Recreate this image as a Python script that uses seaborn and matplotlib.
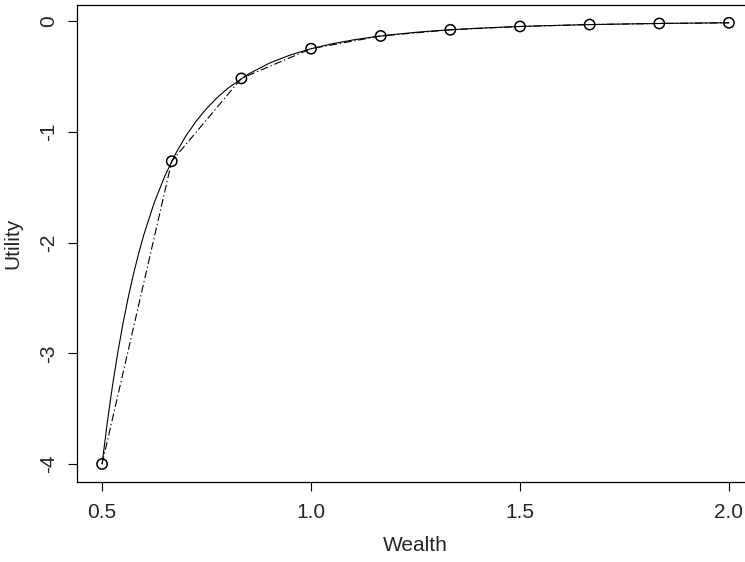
import matplotlib
matplotlib.use("Agg")
import matplotlib.pyplot as plt
import seaborn as sns
import pandas as pd

# smooth utility curve
wealth_curve = [0.5, 0.5125, 0.525, 0.5375, 0.55, 0.5625, 0.575, 0.5875, 0.6, 0.625, 0.65, 0.675,
                0.7, 0.725, 0.75, 0.775, 0.8, 0.85, 0.9, 0.95, 1.0, 1.05, 1.1, 1.15, 1.2, 1.25,
                1.3, 1.35, 1.4, 1.45, 1.5, 1.55, 1.6, 1.65, 1.7, 1.75, 1.8, 1.85, 1.9, 1.95, 2.0]
utility_curve = [-4.0, -3.624, -3.291, -2.995, -2.732, -2.497, -2.287, -2.099, -1.929, -1.638, -1.401, -1.204,
                 -1.041, -0.905, -0.790, -0.693, -0.610, -0.479, -0.381, -0.307, -0.250, -0.206, -0.171, -0.143,
                 -0.121, -0.102, -0.0875, -0.0753, -0.0651, -0.0566, -0.0494, -0.0433, -0.0381, -0.0337,
                 -0.0299, -0.0267, -0.0238, -0.0213, -0.0192, -0.0173, -0.0156]

# grid points (circles, joined by dot-dash line)
wealth_pts = [0.5, 0.6667, 0.8333, 1.0, 1.1667, 1.3333, 1.5, 1.6667, 1.8333, 2.0]
utility_pts = [-4.0, -1.266, -0.518, -0.250, -0.135, -0.079, -0.049, -0.032, -0.022, -0.016]

sns.set_style("ticks")
plt.rcParams["font.family"] = ["Liberation Sans", "DejaVu Sans"]

curve = pd.DataFrame({"Wealth": wealth_curve, "Utility": utility_curve})
pts = pd.DataFrame({"Wealth": wealth_pts, "Utility": utility_pts})

fig = plt.figure(figsize=(7.45, 5.62), dpi=100)
ax = fig.add_axes([77 / 745, 1 - 481.6 / 562, (754 - 77) / 745, (481.6 - 5.2) / 562])

sns.lineplot(data=curve, x="Wealth", y="Utility", ax=ax, color="black", linewidth=0.8,
             sort=False, estimator=None)
sns.lineplot(data=pts, x="Wealth", y="Utility", ax=ax, color="black", linewidth=0.8,
             sort=False, estimator=None, dashes=False)
ax.lines[-1].set_dashes([7, 2.5, 1.2, 2.5])
sns.scatterplot(data=pts, x="Wealth", y="Utility", ax=ax, marker="o", s=55,
                facecolor="none", edgecolor="black", linewidth=1.1, zorder=5)

ax.set_xlim(0.44, 2.06)
ax.set_ylim(-4.159, 0.143)
ax.set_xticks([0.5, 1.0, 1.5, 2.0])
ax.set_xticklabels(["0.5", "1.0", "1.5", "2.0"])
ax.set_yticks([0, -1, -2, -3, -4])
ax.set_yticklabels(["0", "-1", "-2", "-3", "-4"], rotation=90, va="center")
ax.tick_params(axis="both", direction="out", length=6.5, width=0.8, color="black",
               labelsize=15)
ax.tick_params(axis="x", pad=9)
ax.tick_params(axis="y", pad=7)
for s in ax.spines.values():
    s.set_color("black")
    s.set_linewidth(0.9)

ax.set_xlabel("Wealth", fontsize=15, labelpad=10)
ax.set_ylabel("Utility", fontsize=15, labelpad=12)

fig.savefig("out.png", dpi=100)
